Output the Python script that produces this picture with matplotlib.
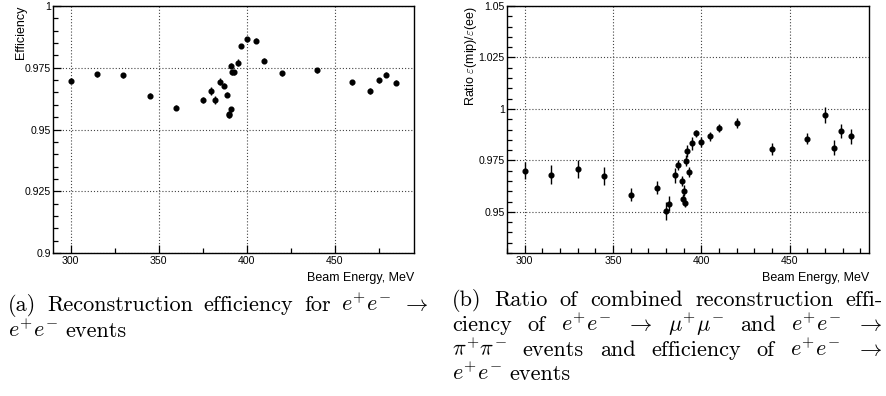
import matplotlib
matplotlib.use('Agg')
import matplotlib.pyplot as plt
from matplotlib.ticker import FixedLocator, MultipleLocator, FuncFormatter

plt.rcParams['font.family'] = ['Liberation Sans', 'DejaVu Sans']
plt.rcParams['mathtext.fontset'] = 'cm'

# beam energies, MeV (same points in both panels)
energy = [300, 315, 330, 345, 360, 375, 380, 382, 385, 387, 389, 389.8, 390.2,
          390.9, 391.3, 391.7, 393, 395, 397, 400, 405, 410, 420, 440, 460,
          470, 475, 479, 485]

# (a) e+e- -> e+e- reconstruction efficiency
eff_ee = [0.9697, 0.9724, 0.9720, 0.9637, 0.9588, 0.9620, 0.9657, 0.9619, 0.9694,
          0.9678, 0.9641, 0.9557, 0.9563, 0.9581, 0.9759, 0.9732, 0.9732, 0.9771,
          0.9838, 0.9865, 0.9860, 0.9779, 0.9728, 0.9739, 0.9692, 0.9654, 0.9700,
          0.9721, 0.9689]
eff_ee_err = [0.0010, 0.0010, 0.0010, 0.0011, 0.0011, 0.0013, 0.0017, 0.0016, 0.0014,
              0.0012, 0.0011, 0.0012, 0.0012, 0.0010, 0.0010, 0.0010, 0.0010, 0.0015,
              0.0010, 0.0010, 0.0010, 0.0010, 0.0010, 0.0010, 0.0010, 0.0012, 0.0010,
              0.0010, 0.0010]

# (b) ratio eps(mip)/eps(ee)
ratio = [0.9700, 0.9681, 0.9709, 0.9675, 0.9584, 0.9618, 0.9506, 0.9540, 0.9678,
         0.9727, 0.9650, 0.9562, 0.9603, 0.9544, 0.9749, 0.9796, 0.9693, 0.9833,
         0.9882, 0.9841, 0.9866, 0.9906, 0.9932, 0.9806, 0.9856, 0.9971, 0.9811,
         0.9893, 0.9867]
ratio_err = [0.0040, 0.0046, 0.0043, 0.0043, 0.0032, 0.0032, 0.0044, 0.0038, 0.0036,
             0.0026, 0.0024, 0.0024, 0.0026, 0.0020, 0.0026, 0.0028, 0.0024, 0.0032,
             0.0018, 0.0024, 0.0020, 0.0020, 0.0023, 0.0030, 0.0026, 0.0039, 0.0037,
             0.0036, 0.0036]

x_major = [300, 350, 400, 450]
yticks_a = [0.9, 0.925, 0.95, 0.975, 1.0]
yticks_b = [0.95, 0.975, 1.0, 1.025, 1.05]

caption_a = [
    (['(a)', 'Reconstruction', 'efficiency', 'for', '$e^{+}e^{-}$', r'$\rightarrow$'], True),
    (['$e^{+}e^{-}$', 'events'], False),
]
caption_b = [
    (['(b)', 'Ratio', 'of', 'combined', 'reconstruction', 'effi-'], True),
    (['ciency', 'of', '$e^{+}e^{-}$', r'$\rightarrow$', r'$\mu^{+}\mu^{-}$', 'and',
      '$e^{+}e^{-}$', r'$\rightarrow$'], True),
    ([r'$\pi^{+}\pi^{-}$', 'events', 'and', 'efficiency', 'of', '$e^{+}e^{-}$',
      r'$\rightarrow$'], True),
    (['$e^{+}e^{-}$', 'events'], False),
]

W, H = 886, 396
fig = plt.figure(figsize=(W / 100, H / 100), dpi=100)


def px_axes(x0, y0, x1, y1):
    return fig.add_axes([x0 / W, 1 - y1 / H, (x1 - x0) / W, (y1 - y0) / H])


def style(ax, ylim, yticks, xminor, ylabel, lab_x):
    ax.set_xlim(290, 495)
    ax.set_ylim(*ylim)
    ax.xaxis.set_major_locator(FixedLocator(x_major))
    ax.xaxis.set_minor_locator(MultipleLocator(xminor))
    ax.yaxis.set_major_locator(FixedLocator(yticks))
    ax.yaxis.set_minor_locator(MultipleLocator(0.005))
    ax.yaxis.set_major_formatter(FuncFormatter(lambda v, p: '%g' % round(v, 4)))
    ax.tick_params(which='both', direction='in', labelsize=7.6, colors='black',
                   top=False, right=False)
    ax.tick_params(which='major', length=6, width=0.9)
    ax.tick_params(which='minor', length=3.5, width=0.9)
    ax.tick_params(axis='x', pad=2.5)
    ax.tick_params(axis='y', pad=1.5)
    ax.grid(True, which='major', color='#444444', linestyle=(0, (1, 1.8)), lw=0.8)
    for s in ax.spines.values():
        s.set_linewidth(1.0)
    ax.set_xlabel('Beam Energy, MeV', fontsize=9, loc='right')
    ax.xaxis.set_label_coords(1.0, -0.078)
    ax.set_ylabel(ylabel, fontsize=9, loc='top')
    ax.yaxis.set_label_coords(lab_x, 1.0)


ax1 = px_axes(53, 6, 414, 253)
ax1.errorbar(energy, eff_ee, yerr=eff_ee_err, fmt='o', color='black', ms=3.4,
             elinewidth=1.0, capsize=0, zorder=3)
style(ax1, (0.9, 1.0), yticks_a, 25, 'Efficiency', -0.072)

ax2 = px_axes(507, 6, 869, 253)
ax2.errorbar(energy, ratio, yerr=ratio_err, fmt='o', color='black', ms=3.4,
             elinewidth=1.0, capsize=0, zorder=3)
style(ax2, (0.93, 1.05), yticks_b, 10, r'Ratio $\varepsilon$(mip)/$\varepsilon$(ee)', -0.078)

# captions, typeset word by word and justified like LaTeX
fig.canvas.draw()
renderer = fig.canvas.get_renderer()
cap_fs = 16


def caption(lines, x0, x1, y0, skip):
    for i, (words, justify) in enumerate(lines):
        y = y0 + i * skip
        texts = [fig.text(0, 1 - y / H, w, fontsize=cap_fs, family='cmr10',
                          va='baseline', ha='left') for w in words]
        widths = [t.get_window_extent(renderer).width for t in texts]
        if justify and len(words) > 1:
            gap = (x1 - x0 - sum(widths)) / (len(words) - 1)
        else:
            gap = 8.0
        x = x0
        for t, w in zip(texts, widths):
            t.set_x(x / W)
            x += w + gap


caption(caption_a, 8, 429, 311, 25.7)
caption(caption_b, 452, 883, 306.5, 24.5)

fig.savefig('out.png', dpi=100)
plt.close(fig)
